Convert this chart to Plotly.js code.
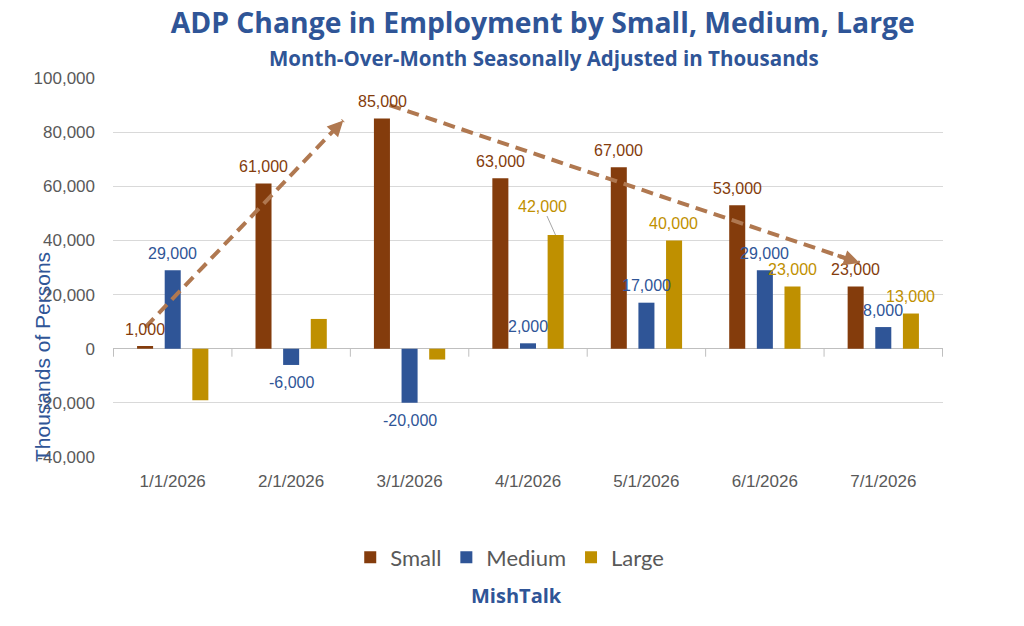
<!DOCTYPE html>
<html>
<head>
<meta charset="utf-8">
<script src="https://cdn.plot.ly/plotly-3.0.1.min.js"></script>
<style>html,body{margin:0;padding:0;background:#fff;}#chart{width:1024px;height:626px;}</style>
</head>
<body>
<div id="chart"></div>
<script>
const categories = ['1/1/2026','2/1/2026','3/1/2026','4/1/2026','5/1/2026','6/1/2026','7/1/2026'];
const small  = [1000, 61000, 85000, 63000, 67000, 53000, 23000];
const medium = [29000, -6000, -20000, 2000, 17000, 29000, 8000];
const large  = [-19000, 11000, -4000, 42000, 40000, 23000, 13000];
// labels shown in the reference (Large labels for first three months are not shown; 4/1 uses a callout)
const largeLabelShown = [false, false, false, 'callout', true, true, true];
const yTickVals = [-40000, -20000, 0, 20000, 40000, 60000, 80000, 100000];
const yTickText = ['-40,000', '-20,000', '0', '20,000', '40,000', '60,000', '80,000', '100,000'];
// trend arrows: [x index, y value] start and end
const trendUp   = [[-0.23, 8000], [1.44, 84300]];
const trendDown = [[1.83, 90000], [5.80, 31700]];

const fmt = v => v.toLocaleString('en-US').replace('\u2212','-');
const cSmall = '#843C0C', cMed = '#2F5597', cLarge = '#BF9000';
const labelFont = (c) => ({family: 'Liberation Sans, Arial, sans-serif', size: 16, color: c});
const slot = 27.5; // pixel offset between grouped bars

function barTrace(name, y, color) {
  return {
    type: 'bar', name: name, x: categories, y: y,
    marker: {color: color}, hoverinfo: 'x+y'
  };
}

const traces = [
  barTrace('Small', small, cSmall),
  barTrace('Medium', medium, cMed),
  barTrace('Large', large, cLarge)
];

const arrowColor = '#B07850';
const shapes = [];
[trendUp, trendDown].forEach(seg => {
  shapes.push({type: 'line', xref: 'x', yref: 'y',
    x0: seg[0][0], y0: seg[0][1], x1: seg[1][0], y1: seg[1][1],
    line: {color: arrowColor, width: 4, dash: '12px,7px'}, layer: 'above'});
});
// category boundary tick marks on the zero line
for (let i = 0; i <= categories.length; i++) {
  shapes.push({type: 'line', xref: 'x', yref: 'y', ysizemode: 'pixel', yanchor: 0,
    x0: i - 0.5, x1: i - 0.5, y0: 0, y1: -8, line: {color: '#BFBFBF', width: 1}});
}

const annotations = [];
// data labels
[[small, cSmall, -slot, null], [medium, cMed, 0, null], [large, cLarge, slot, largeLabelShown]].forEach(([vals, col, xs, show]) => {
  vals.forEach((v, i) => {
    if (show && show[i] === false) return;
    if (show && show[i] === 'callout') {
      annotations.push({xref: 'x', yref: 'y', x: categories[i], y: v, xshift: xs,
        ax: -13, ay: -29, text: fmt(v), showarrow: true, arrowhead: 0, arrowwidth: 1,
        arrowcolor: '#A6A6A6', font: labelFont(col)});
      return;
    }
    annotations.push({xref: 'x', yref: 'y', x: categories[i], y: v, xshift: xs,
      yshift: v >= 0 ? 17 : -18, xanchor: 'center', yanchor: 'middle',
      text: fmt(v), showarrow: false, font: labelFont(col)});
  });
});
// arrowheads
[trendUp, trendDown].forEach(seg => {
  const [s, e] = seg;
  const f = 0.05;
  annotations.push({xref: 'x', yref: 'y', axref: 'x', ayref: 'y',
    x: e[0], y: e[1], ax: e[0] - (e[0] - s[0]) * f, ay: e[1] - (e[1] - s[1]) * f,
    text: '', showarrow: true, arrowhead: 2, arrowsize: 0.9, arrowwidth: 3.5, arrowcolor: arrowColor});
});
// subtitle
annotations.push({xref: 'paper', yref: 'paper', x: 0.519, y: 1.053, xanchor: 'center', yanchor: 'middle',
  text: '<b>Month-Over-Month Seasonally Adjusted in Thousands</b>', showarrow: false,
  font: {family: 'Open Sans, sans-serif', size: 20.5, color: '#2F5597'}});
// y-axis title
annotations.push({xref: 'paper', yref: 'paper', x: -0.085, y: 0.265, xanchor: 'center', yanchor: 'middle',
  text: 'Thousands of Persons', textangle: -90, showarrow: false,
  font: {family: 'Liberation Sans, Arial, sans-serif', size: 21, color: '#2F5597'}});
// source
annotations.push({xref: 'paper', yref: 'paper', x: 0.486, y: -0.366, xanchor: 'center', yanchor: 'middle',
  text: '<b>MishTalk</b>', showarrow: false,
  font: {family: 'Open Sans, sans-serif', size: 20, color: '#2F5597'}});

const layout = {
  width: 1024, height: 626,
  margin: {l: 113, r: 81, t: 78, b: 169},
  paper_bgcolor: '#fff', plot_bgcolor: '#fff',
  title: {text: '<b>ADP Change in Employment by Small, Medium, Large</b>',
    xref: 'container', yref: 'container', x: 0.530, y: 0.963, xanchor: 'center', yanchor: 'middle',
    font: {family: 'Open Sans, sans-serif', size: 28.3, color: '#2F5597'}},
  barmode: 'group', bargap: 0.30, bargroupgap: 0.42,
  showlegend: true,
  legend: {orientation: 'h', x: 0.478, xanchor: 'center', y: -0.265, yanchor: 'middle',
    font: {family: 'Lato, sans-serif', size: 22, color: '#595959'}, itemwidth: 30, traceorder: 'normal'},
  xaxis: {type: 'category', showgrid: false, zeroline: false, showline: false, ticks: '',
    tickfont: {family: 'Liberation Sans, Arial, sans-serif', size: 17, color: '#595959'}, ticklabelstandoff: 12},
  yaxis: {range: [-40000, 100000], tickvals: yTickVals, ticktext: yTickText,
    showgrid: true, gridcolor: '#D9D9D9', gridwidth: 1,
    zeroline: true, zerolinecolor: '#BFBFBF', zerolinewidth: 1, showline: false, ticks: '',
    tickfont: {family: 'Liberation Sans, Arial, sans-serif', size: 17, color: '#595959'}, ticklabelstandoff: 17},
  shapes: shapes,
  annotations: annotations,
  font: {family: 'Liberation Sans, Arial, sans-serif'}
};

Plotly.newPlot('chart', traces, layout, {displayModeBar: false, staticPlot: true});
</script>
</body>
</html>
